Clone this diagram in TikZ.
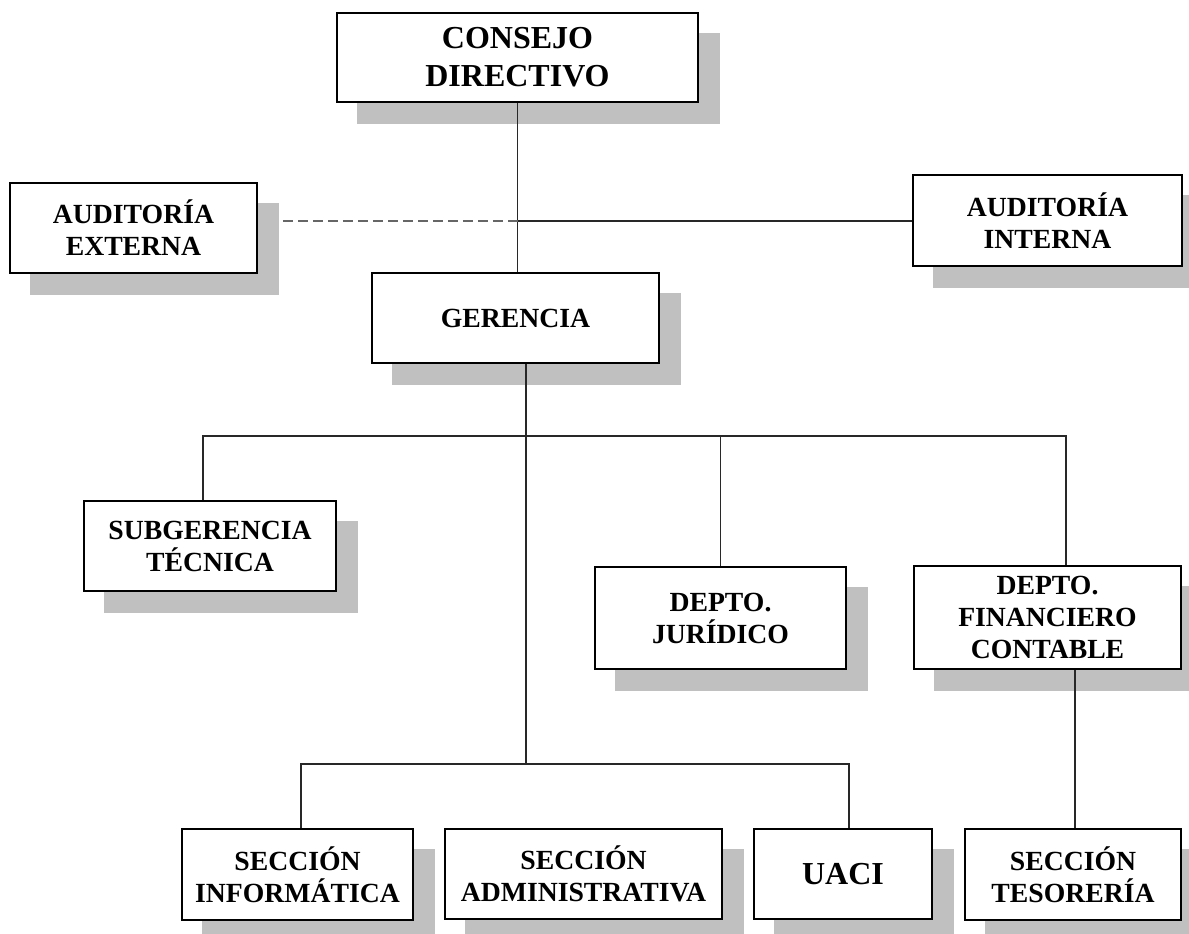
\documentclass[tikz,border=0pt]{standalone}
\usepackage{fontspec}
\setmainfont{Liberation Serif}
\usetikzlibrary{backgrounds}
\pgfdeclarelayer{shadowlayer}
\pgfdeclarelayer{connlayer}
\pgfsetlayers{shadowlayer,connlayer,main}
\definecolor{shadowgray}{RGB}{192,192,192}
\definecolor{linegray}{RGB}{40,40,40}
\tikzset{
  orgbox/.style={draw=black, line width=1.6pt, fill=white, inner sep=0pt,
    align=center, font=\bfseries\fontsize{27.7}{32}\selectfont},
  bigtext/.style={font=\bfseries\fontsize{32}{38}\selectfont},
  shadowfill/.style={fill=shadowgray},
  conn/.style={draw=linegray, line width=1.1pt},
  dashconn/.style={draw=black!60, line width=1.2pt, dash pattern=on 10pt off 5pt}
}
\begin{document}
\begin{tikzpicture}[x=1pt,y=-1pt]
\useasboundingbox (0,0) rectangle (1189,934);
% boxes
\node[orgbox,bigtext,minimum width=361pt,minimum height=89pt] (consejo) at (517.5,57.5) {CONSEJO\\DIRECTIVO};
\node[orgbox,minimum width=247pt,minimum height=90pt] (externa) at (133.5,228) {AUDITORÍA\\EXTERNA};
\node[orgbox,minimum width=269pt,minimum height=91pt] (interna) at (1047.5,220.5) {AUDITORÍA\\INTERNA};
\node[orgbox,minimum width=287pt,minimum height=90pt] (gerencia) at (515.5,318) {GERENCIA};
\node[orgbox,minimum width=252pt,minimum height=90pt] (subger) at (210,546) {SUBGERENCIA\\TÉCNICA};
\node[orgbox,minimum width=251pt,minimum height=102pt] (jur) at (720.5,618) {DEPTO.\\JURÍDICO};
\node[orgbox,minimum width=267pt,minimum height=103pt] (fin) at (1047.5,617.5) {DEPTO.\\FINANCIERO\\CONTABLE};
\node[orgbox,minimum width=231pt,minimum height=91pt] (info) at (297.5,874.5) {SECCIÓN\\INFORMÁTICA};
\node[orgbox,minimum width=277pt,minimum height=90pt] (admin) at (583.5,874) {SECCIÓN\\ADMINISTRATIVA};
\node[orgbox,bigtext,minimum width=178pt,minimum height=90pt] (uaci) at (843,874) {UACI};
\node[orgbox,minimum width=216pt,minimum height=91pt] (tes) at (1073,874.5) {SECCIÓN\\TESORERÍA};
% shadows
\begin{pgfonlayer}{shadowlayer}
\foreach \n in {consejo,externa,interna,gerencia,subger,jur,fin,info,admin,uaci,tes}
  \fill[shadowfill] ([xshift=21pt,yshift=-21pt]\n.north west) rectangle ([xshift=21pt,yshift=-21pt]\n.south east);
\end{pgfonlayer}
% junction points
\coordinate (j1) at (518,221);
\coordinate (bus1) at (526,436);
\coordinate (bus2) at (526,764);
\coordinate (extE) at ([xshift=25pt]externa.east);
\coordinate (gerB) at ([xshift=10.5pt]gerencia.south);
\coordinate (subT) at ([xshift=-7pt]subger.north);
\coordinate (finT) at ([xshift=18.5pt]fin.north);
\coordinate (infT) at ([xshift=3.5pt]info.north);
\coordinate (uacT) at ([xshift=6pt]uaci.north);
\coordinate (finB) at ([xshift=27.5pt]fin.south);
\begin{pgfonlayer}{connlayer}
\draw[conn] (consejo.south) -- (consejo.south |- gerencia.north);
\draw[dashconn] (extE |- j1) -- (j1);
\draw[conn] (j1) -- (j1 -| interna.west);
\draw[conn] (gerB) -- (bus2);
\draw[conn] (subT) |- (finT |- bus1) -- (finT);
\draw[conn] (jur.north) -- (jur.north |- bus1);
\draw[conn] (infT) |- (uacT |- bus2) -- (uacT);
\draw[conn] (finB) -- (finB |- tes.north);
\end{pgfonlayer}
\end{tikzpicture}
\end{document}
